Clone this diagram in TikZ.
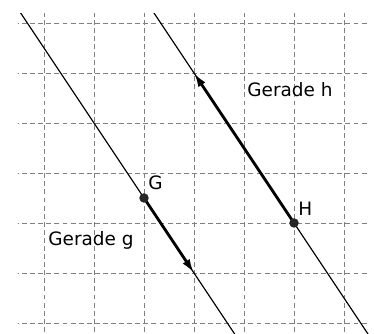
\documentclass[tikz,border=0pt]{standalone}
\usepackage{fontspec}
\setmainfont{DejaVu Sans}
\usetikzlibrary{arrows.meta}
\tikzset{
  gridline/.style={draw=black!50, line width=0.55pt, dash pattern=on 2.8pt off 1.8pt},
  thinline/.style={draw=black, line width=0.65pt},
  vecarrow/.style={draw=black, line width=1.6pt, -{Latex[length=8pt,width=4.8pt]}},
  ptdot/.style={circle, fill=black!85, inner sep=0pt, minimum size=5.4pt},
  lbl/.style={inner sep=0pt, anchor=base west, font=\fontsize{10.5pt}{12pt}\selectfont}
}
\begin{document}
\begin{tikzpicture}[x=1cm,y=1cm]
\useasboundingbox (-0.88,-0.22) rectangle (6.6,6.46);
\begin{scope}
\clip (-0.52,-0.22) rectangle (6.5,6.18);
\foreach \i in {0,...,6} {
  \draw[gridline] (\i,-0.5) -- (\i,6.5);
  \draw[gridline] (-0.6,\i) -- (6.6,\i);
}
\coordinate (gtop) at (-1,7);
\coordinate (gbot) at (4.5,-1.25);
\coordinate (htop) at (2,6.5);
\coordinate (hbot) at (7,-1);
\draw[thinline] (gtop) -- (gbot);
\draw[thinline] (htop) -- (hbot);
\end{scope}
\coordinate (G) at (2,2.5);
\coordinate (H) at (5,2);
\coordinate (gend) at (3,1);
\coordinate (hend) at (3,5);
\draw[vecarrow] (G) -- (gend);
\draw[vecarrow] (H) -- (hend);
\node[ptdot] (Gdot) at (G) {};
\node[ptdot] (Hdot) at (H) {};
\node[lbl] (Glbl) at (2.08,2.66) {G};
\node[lbl] (Hlbl) at (5.08,2.14) {H};
\node[lbl] (glbl) at (0.08,1.54) {Gerade g};
\node[lbl] (hlbl) at (4.06,4.52) {Gerade h};
\end{tikzpicture}
\end{document}
